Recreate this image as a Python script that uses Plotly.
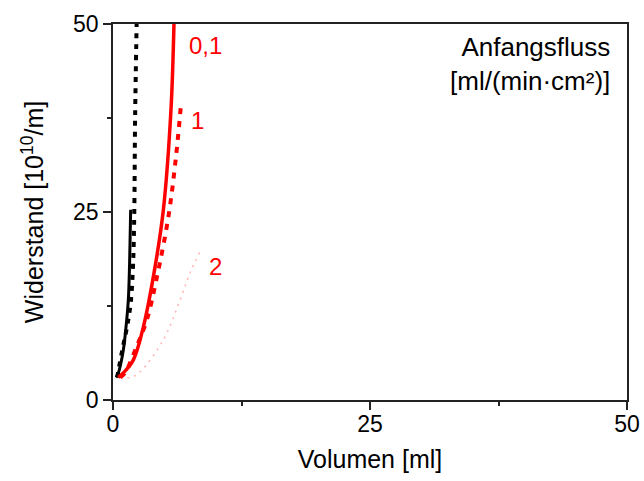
import plotly.graph_objects as go

# Filtration resistance vs. filtrate volume for several initial fluxes
black_solid_x = [0.3, 0.52, 0.75, 1.0, 1.25, 1.49, 1.62, 1.72]
black_solid_y = [3.0, 3.6, 4.8, 6.6, 9.5, 13.3, 18.5, 25.3]

black_dot_x = [0.4, 0.94, 1.35, 1.72, 1.95, 2.07, 2.15, 2.3]
black_dot_y = [3.0, 6.9, 9.6, 12.9, 18.0, 25.0, 37.5, 50.0]

red_solid_x = [0.5, 1.0, 1.97, 2.95, 4.09, 4.9, 5.64, 5.93]
red_solid_y = [3.0, 3.6, 5.3, 9.7, 17.7, 25.3, 38.6, 50.0]

red_dot_x = [0.7, 1.17, 2.3, 3.28, 4.25, 5.38, 6.1, 6.58]
red_dot_y = [3.0, 3.6, 7.1, 10.6, 16.2, 24.3, 32.0, 38.8]

pink_dot_x = [0.7, 1.7, 2.6, 4.9, 6.52, 7.49, 8.46]
pink_dot_y = [3.0, 3.0, 3.7, 8.0, 13.3, 16.9, 19.7]

flux_labels = ["0,1", "1", "2"]
flux_label_x = [8.95, 8.2, 10.0]
flux_label_y = [47.1, 37.2, 17.7]

x_ticks = [0, 25, 50]
y_ticks = [0, 25, 50]

FONT = "Liberation Sans, Arial, sans-serif"

fig = go.Figure()

fig.add_trace(go.Scatter(x=black_dot_x, y=black_dot_y, mode="lines",
                         line=dict(color="black", width=4, dash="5px,6px", shape="spline")))
fig.add_trace(go.Scatter(x=black_solid_x, y=black_solid_y, mode="lines",
                         line=dict(color="black", width=3, shape="spline")))
fig.add_trace(go.Scatter(x=pink_dot_x, y=pink_dot_y, mode="lines",
                         line=dict(color="rgba(255,0,0,0.3)", width=1.5, dash="2px,5px", shape="spline")))
fig.add_trace(go.Scatter(x=red_dot_x, y=red_dot_y, mode="lines",
                         line=dict(color="red", width=4, dash="6px,7px", shape="spline")))
fig.add_trace(go.Scatter(x=red_solid_x, y=red_solid_y, mode="lines",
                         line=dict(color="red", width=3.5, shape="spline")))

for t, x, y in zip(flux_labels, flux_label_x, flux_label_y):
    fig.add_annotation(x=x, y=y, text=t, showarrow=False,
                       font=dict(color="red", size=24, family=FONT))

fig.add_annotation(x=0.97, y=0.985, xref="paper", yref="paper", xanchor="right", yanchor="top",
                   text="Anfangsfluss<br>[ml/(min·cm²)]", showarrow=False, align="right",
                   font=dict(color="black", size=26, family=FONT))

axis_common = dict(
    showgrid=False, zeroline=False, showline=True, linecolor="#222", linewidth=1.5,
    mirror=True, ticks="outside", ticklen=8, tickwidth=1.5, tickcolor="#222",
    minor=dict(ticks="outside", ticklen=4, tickwidth=1.5, tickcolor="#222", dtick=12.5),
    tickfont=dict(size=23, family=FONT, color="black"),
    automargin=False,
)

fig.update_xaxes(range=[0, 50], tickvals=x_ticks, ticklabelstandoff=-5,
                 title=dict(text="Volumen [ml]", font=dict(size=25, family=FONT, color="black"), standoff=14),
                 **axis_common)
fig.update_yaxes(range=[0, 50], tickvals=y_ticks,
                 title=dict(text="Widerstand [10<sup>10</sup>/m]", font=dict(size=25, family=FONT, color="black"), standoff=22),
                 **axis_common)

fig.update_layout(
    width=644, height=481, showlegend=False,
    margin=dict(l=113, r=17, t=24, b=81),
    plot_bgcolor="white", paper_bgcolor="white",
)

fig.write_html("out.html")
